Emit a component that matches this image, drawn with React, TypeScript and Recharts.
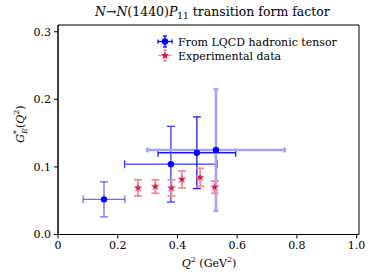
import React from "react";
import {
  ScatterChart,
  Scatter,
  XAxis,
  YAxis,
  ErrorBar,
  ReferenceArea,
} from "recharts";

// LQCD hadronic tensor results
const lqcdQ2 = [0.154, 0.378, 0.465, 0.529];
const lqcdGE = [0.052, 0.104, 0.121, 0.125];
const lqcdQ2Err = [0.07, 0.155, 0.13, 0.23];
const lqcdGEErr = [0.026, 0.056, 0.053, 0.09];

// experimental points
const expQ2 = [0.268, 0.326, 0.38, 0.415, 0.476, 0.525];
const expGE = [0.069, 0.071, 0.069, 0.0815, 0.0845, 0.07];
const expGEErr = [0.012, 0.01, 0.012, 0.0125, 0.0135, 0.009];

const xTicks = [0, 0.2, 0.4, 0.6, 0.8, 1.0];
const yTicks = [0, 0.1, 0.2, 0.3];

const FONT = "'DejaVu Serif', serif";
const BLUE = "#0000ff";
const RED = "#dc143c";
const RED_ERR = "#f08a9c";
const LQCD_ERR_COLORS = ["#6b6bff", "#3a3aff", "#1a1aee", "#a3a3ff"];
const LQCD_ERR_WIDTH = [1.3, 1.3, 1.3, 2.6];
const LQCD_CAP = [4, 4, 4, 2.5];

const lqcdData = lqcdQ2.map((q, i) => ({
  x: q,
  y: lqcdGE[i],
  ex: lqcdQ2Err[i],
  ey: lqcdGEErr[i],
}));

const expData = expQ2.map((q, i) => ({ x: q, y: expGE[i], ey: expGEErr[i] }));

function starPoints(cx: number, cy: number, ro: number, ri: number) {
  const pts: string[] = [];
  for (let k = 0; k < 10; k++) {
    const r = k % 2 === 0 ? ro : ri;
    const a = -Math.PI / 2 + (k * Math.PI) / 5;
    pts.push(`${cx + r * Math.cos(a)},${cy + r * Math.sin(a)}`);
  }
  return pts.join(" ");
}

const Dot = (props: any) => (
  <circle cx={props.cx} cy={props.cy} r={3.2} fill={BLUE} />
);

const Star = (props: any) => (
  <polygon
    points={starPoints(props.cx, props.cy, 4.2, 1.8)}
    fill={RED}
    stroke={RED_ERR}
    strokeWidth={0.8}
  />
);

const tickStyle = { fontSize: 11, fontFamily: FONT, fill: "#000" };

function Overlay() {
  return (
    <svg
      width={373}
      height={278}
      style={{ position: "absolute", left: 0, top: 0, pointerEvents: "none" }}
    >
      <g fontFamily={FONT} fill="#000">
        <text x={95} y={16} fontSize={12.5}>
          <tspan fontStyle="italic">N</tspan>
          <tspan>→</tspan>
          <tspan fontStyle="italic">N</tspan>
          <tspan>(1440)</tspan>
          <tspan fontStyle="italic">P</tspan>
          <tspan fontSize={9} dy={3}>11</tspan>
          <tspan dy={-3}> transition form factor</tspan>
        </text>
        <text x={209} y={267} fontSize={11} textAnchor="middle">
          <tspan fontStyle="italic">Q</tspan>
          <tspan fontSize={8} dy={-5}>2</tspan>
          <tspan dy={5}> (GeV</tspan>
          <tspan fontSize={8} dy={-5}>2</tspan>
          <tspan dy={5}>)</tspan>
        </text>
        <text
          transform="translate(24,124) rotate(-90)"
          fontSize={11}
          textAnchor="middle"
        >
          <tspan fontStyle="italic">G</tspan>
          <tspan fontSize={8} dy={-5}>*</tspan>
          <tspan fontSize={8} fontStyle="italic" dy={8} dx={-4}>E</tspan>
          <tspan dy={-3}>(</tspan>
          <tspan fontStyle="italic">Q</tspan>
          <tspan fontSize={8} dy={-5}>2</tspan>
          <tspan dy={5}>)</tspan>
        </text>
        {/* legend */}
        <g stroke={BLUE} strokeWidth={1.3}>
          <line x1={158} x2={172} y1={41.5} y2={41.5} />
          <line x1={165} x2={165} y1={36} y2={47} />
          <line x1={158} x2={158} y1={39.5} y2={43.5} />
          <line x1={172} x2={172} y1={39.5} y2={43.5} />
          <line x1={163} x2={167} y1={36} y2={36} />
          <line x1={163} x2={167} y1={47} y2={47} />
        </g>
        <circle cx={165} cy={41.5} r={3.2} fill={BLUE} />
        <g stroke={RED_ERR} strokeWidth={1.3}>
          <line x1={158} x2={172} y1={55.5} y2={55.5} />
          <line x1={165} x2={165} y1={50} y2={61} />
          <line x1={163} x2={167} y1={50} y2={50} />
          <line x1={163} x2={167} y1={61} y2={61} />
        </g>
        <polygon points={starPoints(165, 55.5, 4.2, 1.8)} fill={RED} />
        <text x={178} y={45.5} fontSize={11}>
          From LQCD hadronic tensor
        </text>
        <text x={178} y={59.5} fontSize={11}>
          Experimental data
        </text>
      </g>
    </svg>
  );
}

export default function App() {
  return (
    <div
      style={{
        position: "absolute",
        left: 0,
        top: 0,
        width: 373,
        height: 278,
        background: "#fff",
      }}
    >
      <ScatterChart
        width={373}
        height={278}
        margin={{ top: 25, right: 14, bottom: 0, left: 0 }}
      >
        <XAxis
          type="number"
          dataKey="x"
          domain={[0, 1.008]}
          ticks={xTicks}
          tickFormatter={(v: number) => (v === 0 ? "0" : v.toFixed(1))}
          height={43.5}
          tickSize={4}
          tickMargin={3}
          stroke="#000"
          tick={tickStyle}
          allowDataOverflow
        />
        <YAxis
          type="number"
          dataKey="y"
          domain={[0, 0.31]}
          ticks={yTicks}
          tickFormatter={(v: number) => v.toFixed(1)}
          width={58}
          tickSize={4}
          tickMargin={3}
          stroke="#000"
          tick={tickStyle}
          allowDataOverflow
        />
        <ReferenceArea
          x1={0}
          x2={1.008}
          y1={0}
          y2={0.31}
          fill="none"
          stroke="#000"
          strokeWidth={1}
          fillOpacity={0}
        />
        {lqcdData.map((d, i) => (
          <Scatter
            key={"l" + i}
            data={[d]}
            shape={Dot}
            isAnimationActive={false}
          >
            <ErrorBar
              dataKey="ex"
              direction="x"
              width={LQCD_CAP[i]}
              stroke={LQCD_ERR_COLORS[i]}
              strokeWidth={LQCD_ERR_WIDTH[i]}
            />
            <ErrorBar
              dataKey="ey"
              direction="y"
              width={LQCD_CAP[i]}
              stroke={LQCD_ERR_COLORS[i]}
              strokeWidth={LQCD_ERR_WIDTH[i]}
            />
          </Scatter>
        ))}
        <Scatter data={expData} shape={Star} isAnimationActive={false}>
          <ErrorBar
            dataKey="ey"
            direction="y"
            width={4}
            stroke={RED_ERR}
            strokeWidth={1.8}
          />
        </Scatter>
      </ScatterChart>
      <Overlay />
    </div>
  );
}
